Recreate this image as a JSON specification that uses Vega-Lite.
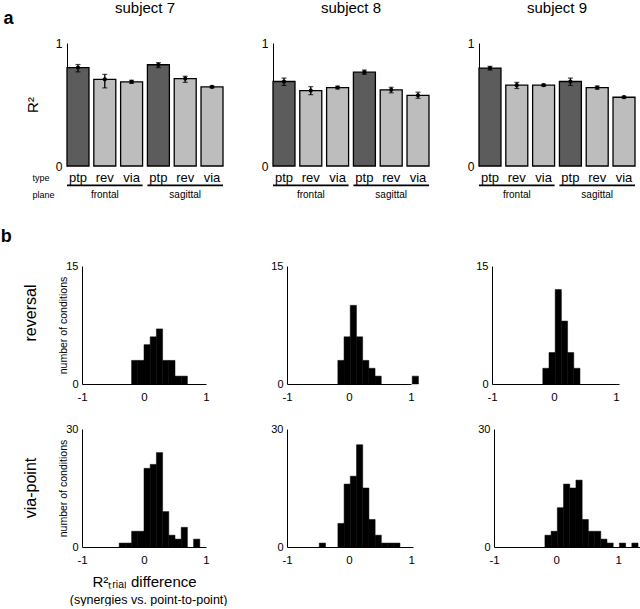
{
  "$schema": "https://vega.github.io/schema/vega-lite/v6.json",
  "background": "white",
  "padding": {"left": 0, "top": 1, "right": 0, "bottom": 0},
  "config": {
    "font": "Liberation Sans",
    "view": {"stroke": null},
    "axis": {"grid": false, "domainColor": "black", "domainWidth": 1, "tickColor": "black", "labelColor": "black", "titleColor": "black", "labelFont": "Liberation Sans", "titleFont": "Liberation Sans", "titleFontWeight": "normal", "labelFontSize": 12},
    "title": {"font": "Liberation Sans", "color": "black", "fontWeight": "normal"}
  },
  "datasets": {
    "bars": [
      {"subject": 7, "plane": "frontal", "type": "ptp", "cond": "frontal ptp", "r2": 0.80, "lo": 0.765, "hi": 0.825},
      {"subject": 7, "plane": "frontal", "type": "rev", "cond": "frontal rev", "r2": 0.705, "lo": 0.635, "hi": 0.745},
      {"subject": 7, "plane": "frontal", "type": "via", "cond": "frontal via", "r2": 0.684, "lo": 0.672, "hi": 0.697},
      {"subject": 7, "plane": "sagittal", "type": "ptp", "cond": "sagittal ptp", "r2": 0.823, "lo": 0.80, "hi": 0.84},
      {"subject": 7, "plane": "sagittal", "type": "rev", "cond": "sagittal rev", "r2": 0.711, "lo": 0.68, "hi": 0.73},
      {"subject": 7, "plane": "sagittal", "type": "via", "cond": "sagittal via", "r2": 0.643, "lo": 0.636, "hi": 0.65},
      {"subject": 8, "plane": "frontal", "type": "ptp", "cond": "frontal ptp", "r2": 0.687, "lo": 0.655, "hi": 0.715},
      {"subject": 8, "plane": "frontal", "type": "rev", "cond": "frontal rev", "r2": 0.613, "lo": 0.58, "hi": 0.645},
      {"subject": 8, "plane": "frontal", "type": "via", "cond": "frontal via", "r2": 0.638, "lo": 0.627, "hi": 0.649},
      {"subject": 8, "plane": "sagittal", "type": "ptp", "cond": "sagittal ptp", "r2": 0.763, "lo": 0.745, "hi": 0.78},
      {"subject": 8, "plane": "sagittal", "type": "rev", "cond": "sagittal rev", "r2": 0.619, "lo": 0.595, "hi": 0.64},
      {"subject": 8, "plane": "sagittal", "type": "via", "cond": "sagittal via", "r2": 0.575, "lo": 0.55, "hi": 0.60},
      {"subject": 9, "plane": "frontal", "type": "ptp", "cond": "frontal ptp", "r2": 0.796, "lo": 0.78, "hi": 0.81},
      {"subject": 9, "plane": "frontal", "type": "rev", "cond": "frontal rev", "r2": 0.657, "lo": 0.63, "hi": 0.68},
      {"subject": 9, "plane": "frontal", "type": "via", "cond": "frontal via", "r2": 0.657, "lo": 0.649, "hi": 0.665},
      {"subject": 9, "plane": "sagittal", "type": "ptp", "cond": "sagittal ptp", "r2": 0.687, "lo": 0.655, "hi": 0.715},
      {"subject": 9, "plane": "sagittal", "type": "rev", "cond": "sagittal rev", "r2": 0.638, "lo": 0.625, "hi": 0.65},
      {"subject": 9, "plane": "sagittal", "type": "via", "cond": "sagittal via", "r2": 0.559, "lo": 0.552, "hi": 0.567}
    ],
    "planes": [{"plane": "frontal"}, {"plane": "sagittal"}],
    "hist": [
      {"subject": 7, "cond": "reversal", "x0": -0.2, "x1": -0.1, "n": 3},
      {"subject": 7, "cond": "reversal", "x0": -0.1, "x1": 0.0, "n": 3},
      {"subject": 7, "cond": "reversal", "x0": 0.0, "x1": 0.1, "n": 5},
      {"subject": 7, "cond": "reversal", "x0": 0.1, "x1": 0.2, "n": 6},
      {"subject": 7, "cond": "reversal", "x0": 0.2, "x1": 0.3, "n": 7},
      {"subject": 7, "cond": "reversal", "x0": 0.3, "x1": 0.4, "n": 3},
      {"subject": 7, "cond": "reversal", "x0": 0.4, "x1": 0.5, "n": 3},
      {"subject": 7, "cond": "reversal", "x0": 0.5, "x1": 0.6, "n": 1},
      {"subject": 7, "cond": "reversal", "x0": 0.6, "x1": 0.7, "n": 1},
      {"subject": 8, "cond": "reversal", "x0": -0.18, "x1": -0.08, "n": 3},
      {"subject": 8, "cond": "reversal", "x0": -0.08, "x1": 0.02, "n": 6},
      {"subject": 8, "cond": "reversal", "x0": 0.02, "x1": 0.12, "n": 10},
      {"subject": 8, "cond": "reversal", "x0": 0.12, "x1": 0.22, "n": 6},
      {"subject": 8, "cond": "reversal", "x0": 0.22, "x1": 0.32, "n": 3},
      {"subject": 8, "cond": "reversal", "x0": 0.32, "x1": 0.42, "n": 2},
      {"subject": 8, "cond": "reversal", "x0": 0.42, "x1": 0.52, "n": 1},
      {"subject": 8, "cond": "reversal", "x0": 1.02, "x1": 1.12, "n": 1},
      {"subject": 9, "cond": "reversal", "x0": -0.18, "x1": -0.08, "n": 2},
      {"subject": 9, "cond": "reversal", "x0": -0.08, "x1": 0.02, "n": 4},
      {"subject": 9, "cond": "reversal", "x0": 0.02, "x1": 0.12, "n": 12},
      {"subject": 9, "cond": "reversal", "x0": 0.12, "x1": 0.22, "n": 8},
      {"subject": 9, "cond": "reversal", "x0": 0.22, "x1": 0.32, "n": 4},
      {"subject": 9, "cond": "reversal", "x0": 0.32, "x1": 0.42, "n": 2},
      {"subject": 7, "cond": "via", "x0": -0.4, "x1": -0.3, "n": 1},
      {"subject": 7, "cond": "via", "x0": -0.3, "x1": -0.2, "n": 1},
      {"subject": 7, "cond": "via", "x0": -0.2, "x1": -0.1, "n": 4},
      {"subject": 7, "cond": "via", "x0": -0.1, "x1": 0.0, "n": 4},
      {"subject": 7, "cond": "via", "x0": 0.0, "x1": 0.1, "n": 20},
      {"subject": 7, "cond": "via", "x0": 0.1, "x1": 0.2, "n": 21},
      {"subject": 7, "cond": "via", "x0": 0.2, "x1": 0.3, "n": 24},
      {"subject": 7, "cond": "via", "x0": 0.3, "x1": 0.4, "n": 9},
      {"subject": 7, "cond": "via", "x0": 0.4, "x1": 0.5, "n": 3},
      {"subject": 7, "cond": "via", "x0": 0.5, "x1": 0.6, "n": 2},
      {"subject": 7, "cond": "via", "x0": 0.6, "x1": 0.7, "n": 5},
      {"subject": 7, "cond": "via", "x0": 0.8, "x1": 0.9, "n": 2},
      {"subject": 8, "cond": "via", "x0": -0.48, "x1": -0.38, "n": 1},
      {"subject": 8, "cond": "via", "x0": -0.18, "x1": -0.08, "n": 6},
      {"subject": 8, "cond": "via", "x0": -0.08, "x1": 0.02, "n": 16},
      {"subject": 8, "cond": "via", "x0": 0.02, "x1": 0.12, "n": 18},
      {"subject": 8, "cond": "via", "x0": 0.12, "x1": 0.22, "n": 26},
      {"subject": 8, "cond": "via", "x0": 0.22, "x1": 0.32, "n": 15},
      {"subject": 8, "cond": "via", "x0": 0.32, "x1": 0.42, "n": 7},
      {"subject": 8, "cond": "via", "x0": 0.42, "x1": 0.52, "n": 3},
      {"subject": 8, "cond": "via", "x0": 0.52, "x1": 0.62, "n": 1},
      {"subject": 8, "cond": "via", "x0": 0.62, "x1": 0.72, "n": 1},
      {"subject": 8, "cond": "via", "x0": 0.72, "x1": 0.82, "n": 1},
      {"subject": 9, "cond": "via", "x0": -0.18, "x1": -0.08, "n": 3},
      {"subject": 9, "cond": "via", "x0": -0.08, "x1": 0.02, "n": 4},
      {"subject": 9, "cond": "via", "x0": 0.02, "x1": 0.12, "n": 10},
      {"subject": 9, "cond": "via", "x0": 0.12, "x1": 0.22, "n": 16},
      {"subject": 9, "cond": "via", "x0": 0.22, "x1": 0.32, "n": 15},
      {"subject": 9, "cond": "via", "x0": 0.32, "x1": 0.42, "n": 17},
      {"subject": 9, "cond": "via", "x0": 0.42, "x1": 0.52, "n": 7},
      {"subject": 9, "cond": "via", "x0": 0.52, "x1": 0.62, "n": 4},
      {"subject": 9, "cond": "via", "x0": 0.62, "x1": 0.72, "n": 4},
      {"subject": 9, "cond": "via", "x0": 0.72, "x1": 0.82, "n": 2},
      {"subject": 9, "cond": "via", "x0": 0.82, "x1": 0.92, "n": 1},
      {"subject": 9, "cond": "via", "x0": 1.02, "x1": 1.12, "n": 1},
      {"subject": 9, "cond": "via", "x0": 1.22, "x1": 1.32, "n": 1}
    ]
  },
  "columns": 1,
  "align": "none",
  "spacing": 29,
  "concat": [
    {
      "bounds": "flush",
      "spacing": 50,
      "hconcat": [
        {
          "width": 156, "height": 123,
          "title": {"text": "subject 7", "fontSize": 15, "frame": "group", "offset": -7, "dx": -15},
          "layer": [
            {
              "data": {"name": "bars"},
              "transform": [{"filter": "datum.subject == 7"}],
              "layer": [
                {"mark": {"type": "bar", "stroke": "black", "strokeWidth": 1.3},
                 "encoding": {
                   "x": {"field": "cond", "type": "nominal", "sort": null, "scale": {"paddingInner": 0.18, "paddingOuter": 0, "range": [-15, 141]},
                         "axis": {"orient": "bottom", "domain": false, "ticks": false, "tickSize": 0, "labelAngle": 0, "labelFontSize": 13, "labelPadding": 15, "labelBaseline": "alphabetic", "labelExpr": "split(datum.value, ' ')[1]",
                                  "title": "type", "titleFontSize": 9, "titleAlign": "left", "titleX": -50, "titleY": 14, "titleBaseline": "alphabetic", "titleAngle": 0}},
                   "y": {"field": "r2", "type": "quantitative", "scale": {"domain": [0, 1], "nice": false}, "axis": {"offset": 15, "values": [0, 1], "format": "d", "ticks": false, "tickSize": 0, "labelPadding": 5, "labelFontSize": 12, "title": "R²", "titleFontSize": 15, "titleAngle": -90, "titleAlign": "center", "titleBaseline": "alphabetic", "titleX": -30, "titleY": 61.5}},
                   "fill": {"field": "type", "type": "nominal", "scale": {"domain": ["ptp", "rev", "via"], "range": ["#5c5c5c", "#bdbdbd", "#bdbdbd"]}, "legend": null}
                 }},
                {"mark": {"type": "rule", "color": "black", "strokeWidth": 1.3}, "encoding": {"x": {"field": "cond", "type": "nominal", "sort": null}, "y": {"field": "lo", "type": "quantitative", "axis": {"offset": 15, "values": [0, 1], "format": "d", "ticks": false, "tickSize": 0, "labelPadding": 5, "labelFontSize": 12, "title": "R²", "titleFontSize": 15, "titleAngle": -90, "titleAlign": "center", "titleBaseline": "alphabetic", "titleX": -30, "titleY": 61.5}}, "y2": {"field": "hi"}}},
                {"mark": {"type": "tick", "color": "black", "orient": "horizontal", "size": 5, "thickness": 1.2}, "encoding": {"x": {"field": "cond", "type": "nominal", "sort": null}, "y": {"field": "lo", "type": "quantitative", "axis": {"offset": 15, "values": [0, 1], "format": "d", "ticks": false, "tickSize": 0, "labelPadding": 5, "labelFontSize": 12, "title": "R²", "titleFontSize": 15, "titleAngle": -90, "titleAlign": "center", "titleBaseline": "alphabetic", "titleX": -30, "titleY": 61.5}}}},
                {"mark": {"type": "tick", "color": "black", "orient": "horizontal", "size": 5, "thickness": 1.2}, "encoding": {"x": {"field": "cond", "type": "nominal", "sort": null}, "y": {"field": "hi", "type": "quantitative", "axis": {"offset": 15, "values": [0, 1], "format": "d", "ticks": false, "tickSize": 0, "labelPadding": 5, "labelFontSize": 12, "title": "R²", "titleFontSize": 15, "titleAngle": -90, "titleAlign": "center", "titleBaseline": "alphabetic", "titleX": -30, "titleY": 61.5}}}},
                {"mark": {"type": "point", "filled": true, "color": "black", "opacity": 1, "size": 18}, "encoding": {"x": {"field": "cond", "type": "nominal", "sort": null}, "y": {"field": "r2", "type": "quantitative", "axis": {"offset": 15, "values": [0, 1], "format": "d", "ticks": false, "tickSize": 0, "labelPadding": 5, "labelFontSize": 12, "title": "R²", "titleFontSize": 15, "titleAngle": -90, "titleAlign": "center", "titleBaseline": "alphabetic", "titleX": -30, "titleY": 61.5}}}}
              ]
            },
            {
              "data": {"name": "planes"},
              "mark": {"type": "bar", "color": "black"},
              "encoding": {
                "x": {"field": "plane", "type": "nominal", "sort": null, "scale": {"paddingInner": 0.06, "paddingOuter": 0, "range": [-15, 141]},
                      "axis": {"orient": "bottom", "domain": false, "ticks": false, "tickSize": 0, "labelAngle": 0, "labelFontSize": 10, "labelPadding": 31, "labelBaseline": "alphabetic",
                               "title": "plane", "titleFontSize": 9, "titleAlign": "left", "titleX": -50, "titleY": 31, "titleBaseline": "alphabetic", "titleAngle": 0}},
                "y": {"datum": -0.15, "type": "quantitative", "scale": {"domain": [0, 1], "nice": false},
                      "axis": {"orient": "left", "offset": 15, "domain": false, "labels": false, "ticks": false, "tickSize": 0, "title": "a", "titleFontSize": 18, "titleFontWeight": "bold", "titleAngle": 0, "titleAlign": "left", "titleBaseline": "alphabetic", "titleX": -64, "titleY": -20}},
                "y2": {"datum": -0.165}
              }
            }
          ],
          "resolve": {"scale": {"x": "independent", "y": "independent"}, "axis": {"x": "independent", "y": "independent"}}
        },
        {
          "width": 156, "height": 123,
          "title": {"text": "subject 8", "fontSize": 15, "frame": "group", "offset": 21, "dx": -15},
          "layer": [
            {
              "data": {"name": "bars"},
              "transform": [{"filter": "datum.subject == 8"}],
              "layer": [
                {"mark": {"type": "bar", "stroke": "black", "strokeWidth": 1.3},
                 "encoding": {
                   "x": {"field": "cond", "type": "nominal", "sort": null, "scale": {"paddingInner": 0.18, "paddingOuter": 0, "range": [-15, 141]},
                         "axis": {"orient": "bottom", "domain": false, "ticks": false, "tickSize": 0, "labelAngle": 0, "labelFontSize": 13, "labelPadding": 15, "labelBaseline": "alphabetic", "labelExpr": "split(datum.value, ' ')[1]", "title": null}},
                   "y": {"field": "r2", "type": "quantitative", "scale": {"domain": [0, 1], "nice": false}, "axis": {"offset": 15, "values": [0, 1], "format": "d", "ticks": false, "tickSize": 0, "labelPadding": 5, "labelFontSize": 12, "title": null}},
                   "fill": {"field": "type", "type": "nominal", "scale": {"domain": ["ptp", "rev", "via"], "range": ["#5c5c5c", "#bdbdbd", "#bdbdbd"]}, "legend": null}
                 }},
                {"mark": {"type": "rule", "color": "black", "strokeWidth": 1.3}, "encoding": {"x": {"field": "cond", "type": "nominal", "sort": null}, "y": {"field": "lo", "type": "quantitative", "axis": {"offset": 15, "values": [0, 1], "format": "d", "ticks": false, "tickSize": 0, "labelPadding": 5, "labelFontSize": 12, "title": null}}, "y2": {"field": "hi"}}},
                {"mark": {"type": "tick", "color": "black", "orient": "horizontal", "size": 5, "thickness": 1.2}, "encoding": {"x": {"field": "cond", "type": "nominal", "sort": null}, "y": {"field": "lo", "type": "quantitative", "axis": {"offset": 15, "values": [0, 1], "format": "d", "ticks": false, "tickSize": 0, "labelPadding": 5, "labelFontSize": 12, "title": null}}}},
                {"mark": {"type": "tick", "color": "black", "orient": "horizontal", "size": 5, "thickness": 1.2}, "encoding": {"x": {"field": "cond", "type": "nominal", "sort": null}, "y": {"field": "hi", "type": "quantitative", "axis": {"offset": 15, "values": [0, 1], "format": "d", "ticks": false, "tickSize": 0, "labelPadding": 5, "labelFontSize": 12, "title": null}}}},
                {"mark": {"type": "point", "filled": true, "color": "black", "opacity": 1, "size": 18}, "encoding": {"x": {"field": "cond", "type": "nominal", "sort": null}, "y": {"field": "r2", "type": "quantitative", "axis": {"offset": 15, "values": [0, 1], "format": "d", "ticks": false, "tickSize": 0, "labelPadding": 5, "labelFontSize": 12, "title": null}}}}
              ]
            },
            {
              "data": {"name": "planes"},
              "mark": {"type": "bar", "color": "black"},
              "encoding": {
                "x": {"field": "plane", "type": "nominal", "sort": null, "scale": {"paddingInner": 0.06, "paddingOuter": 0, "range": [-15, 141]},
                      "axis": {"orient": "bottom", "domain": false, "ticks": false, "tickSize": 0, "labelAngle": 0, "labelFontSize": 10, "labelPadding": 31, "labelBaseline": "alphabetic", "title": null}},
                "y": {"datum": -0.15, "type": "quantitative", "scale": {"domain": [0, 1], "nice": false}, "axis": {"offset": 15, "values": [0, 1], "format": "d", "ticks": false, "tickSize": 0, "labelPadding": 5, "labelFontSize": 12, "title": null}},
                "y2": {"datum": -0.165}
              }
            }
          ],
          "resolve": {"scale": {"x": "independent"}, "axis": {"x": "independent"}}
        },
        {
          "width": 156, "height": 123,
          "title": {"text": "subject 9", "fontSize": 15, "frame": "group", "offset": 21, "dx": -15},
          "layer": [
            {
              "data": {"name": "bars"},
              "transform": [{"filter": "datum.subject == 9"}],
              "layer": [
                {"mark": {"type": "bar", "stroke": "black", "strokeWidth": 1.3},
                 "encoding": {
                   "x": {"field": "cond", "type": "nominal", "sort": null, "scale": {"paddingInner": 0.18, "paddingOuter": 0, "range": [-15, 141]},
                         "axis": {"orient": "bottom", "domain": false, "ticks": false, "tickSize": 0, "labelAngle": 0, "labelFontSize": 13, "labelPadding": 15, "labelBaseline": "alphabetic", "labelExpr": "split(datum.value, ' ')[1]", "title": null}},
                   "y": {"field": "r2", "type": "quantitative", "scale": {"domain": [0, 1], "nice": false}, "axis": {"offset": 15, "values": [0, 1], "format": "d", "ticks": false, "tickSize": 0, "labelPadding": 5, "labelFontSize": 12, "title": null}},
                   "fill": {"field": "type", "type": "nominal", "scale": {"domain": ["ptp", "rev", "via"], "range": ["#5c5c5c", "#bdbdbd", "#bdbdbd"]}, "legend": null}
                 }},
                {"mark": {"type": "rule", "color": "black", "strokeWidth": 1.3}, "encoding": {"x": {"field": "cond", "type": "nominal", "sort": null}, "y": {"field": "lo", "type": "quantitative", "axis": {"offset": 15, "values": [0, 1], "format": "d", "ticks": false, "tickSize": 0, "labelPadding": 5, "labelFontSize": 12, "title": null}}, "y2": {"field": "hi"}}},
                {"mark": {"type": "tick", "color": "black", "orient": "horizontal", "size": 5, "thickness": 1.2}, "encoding": {"x": {"field": "cond", "type": "nominal", "sort": null}, "y": {"field": "lo", "type": "quantitative", "axis": {"offset": 15, "values": [0, 1], "format": "d", "ticks": false, "tickSize": 0, "labelPadding": 5, "labelFontSize": 12, "title": null}}}},
                {"mark": {"type": "tick", "color": "black", "orient": "horizontal", "size": 5, "thickness": 1.2}, "encoding": {"x": {"field": "cond", "type": "nominal", "sort": null}, "y": {"field": "hi", "type": "quantitative", "axis": {"offset": 15, "values": [0, 1], "format": "d", "ticks": false, "tickSize": 0, "labelPadding": 5, "labelFontSize": 12, "title": null}}}},
                {"mark": {"type": "point", "filled": true, "color": "black", "opacity": 1, "size": 18}, "encoding": {"x": {"field": "cond", "type": "nominal", "sort": null}, "y": {"field": "r2", "type": "quantitative", "axis": {"offset": 15, "values": [0, 1], "format": "d", "ticks": false, "tickSize": 0, "labelPadding": 5, "labelFontSize": 12, "title": null}}}}
              ]
            },
            {
              "data": {"name": "planes"},
              "mark": {"type": "bar", "color": "black"},
              "encoding": {
                "x": {"field": "plane", "type": "nominal", "sort": null, "scale": {"paddingInner": 0.06, "paddingOuter": 0, "range": [-15, 141]},
                      "axis": {"orient": "bottom", "domain": false, "ticks": false, "tickSize": 0, "labelAngle": 0, "labelFontSize": 10, "labelPadding": 31, "labelBaseline": "alphabetic", "title": null}},
                "y": {"datum": -0.15, "type": "quantitative", "scale": {"domain": [0, 1], "nice": false}, "axis": {"offset": 15, "values": [0, 1], "format": "d", "ticks": false, "tickSize": 0, "labelPadding": 5, "labelFontSize": 12, "title": null}},
                "y2": {"datum": -0.165}
              }
            }
          ],
          "resolve": {"scale": {"x": "independent"}, "axis": {"x": "independent"}}
        }
      ]
    },
    {
      "title": {"text": "b", "orient": "left", "angle": 0, "anchor": "end", "frame": "bounds", "align": "right", "fontSize": 18, "fontWeight": "bold", "baseline": "alphabetic", "offset": 0, "dy": -18},
      "spacing": 20,
      "vconcat": [
        {
          "bounds": "flush",
          "spacing": 81,
          "hconcat": [
            {
              "width": 124, "height": 118,
              "title": {"text": "reversal", "orient": "left", "fontSize": 16, "offset": 20, "frame": "group", "dx": 12},
              "data": {"name": "hist"},
              "transform": [{"filter": "datum.subject == 7 && datum.cond == 'reversal'"}],
              "mark": {"type": "bar", "color": "black", "stroke": "black", "strokeWidth": 0.5},
              "encoding": {
                "x": {"field": "x0", "type": "quantitative", "scale": {"domain": [-1, 1], "nice": false, "zero": false}, "axis": {"values": [-1, 0, 1], "ticks": false, "tickSize": 0, "labelPadding": 7, "labelFlush": false, "labelOverlap": false, "labelFontSize": 11.5, "labelExpr": "datum.value == 0 ? '0' : (datum.value < 0 ? '-1' : '1')", "title": null}},
                "x2": {"field": "x1"},
                "y": {"field": "n", "type": "quantitative", "scale": {"domain": [0, 15], "nice": false}, "axis": {"values": [0, 15], "ticks": false, "tickSize": 0, "labelPadding": 4, "labelFontSize": 11, "title": "number of conditions", "titleFontSize": 10.5, "titlePadding": -3}},
                "y2": {"datum": 0}
              }
            },
            {
              "width": 124, "height": 118,
              "data": {"name": "hist"},
              "transform": [{"filter": "datum.subject == 8 && datum.cond == 'reversal'"}],
              "mark": {"type": "bar", "color": "black", "stroke": "black", "strokeWidth": 0.5},
              "encoding": {
                "x": {"field": "x0", "type": "quantitative", "scale": {"domain": [-1, 1], "nice": false, "zero": false}, "axis": {"values": [-1, 0, 1], "ticks": false, "tickSize": 0, "labelPadding": 7, "labelFlush": false, "labelOverlap": false, "labelFontSize": 11.5, "labelExpr": "datum.value == 0 ? '0' : (datum.value < 0 ? '-1' : '1')", "title": null}},
                "x2": {"field": "x1"},
                "y": {"field": "n", "type": "quantitative", "scale": {"domain": [0, 15], "nice": false}, "axis": {"values": [0, 15], "ticks": false, "tickSize": 0, "labelPadding": 4, "labelFontSize": 11, "title": null}},
                "y2": {"datum": 0}
              }
            },
            {
              "width": 127, "height": 118,
              "data": {"name": "hist"},
              "transform": [{"filter": "datum.subject == 9 && datum.cond == 'reversal'"}],
              "mark": {"type": "bar", "color": "black", "stroke": "black", "strokeWidth": 0.5},
              "encoding": {
                "x": {"field": "x0", "type": "quantitative", "scale": {"domain": [-1, 1.05], "nice": false, "zero": false}, "axis": {"values": [-1, 0, 1], "ticks": false, "tickSize": 0, "labelPadding": 7, "labelFlush": false, "labelOverlap": false, "labelFontSize": 11.5, "labelExpr": "datum.value == 0 ? '0' : (datum.value < 0 ? '-1' : '1')", "title": null}},
                "x2": {"field": "x1"},
                "y": {"field": "n", "type": "quantitative", "scale": {"domain": [0, 15], "nice": false}, "axis": {"values": [0, 15], "ticks": false, "tickSize": 0, "labelPadding": 4, "labelFontSize": 11, "title": null}},
                "y2": {"datum": 0}
              }
            }
          ]
        },
        {
          "bounds": "flush",
          "spacing": 81,
          "title": {"text": "(synergies vs. point-to-point)", "orient": "bottom", "anchor": "start", "frame": "bounds", "fontSize": 12.5, "offset": 4, "dx": 47},
          "hconcat": [
            {
              "width": 124, "height": 118,
              "title": {"text": "via-point", "orient": "left", "fontSize": 16, "offset": 20, "frame": "group"},
              "data": {"name": "hist"},
              "transform": [{"filter": "datum.subject == 7 && datum.cond == 'via'"}],
              "mark": {"type": "bar", "color": "black", "stroke": "black", "strokeWidth": 0.5},
              "encoding": {
                "x": {"field": "x0", "type": "quantitative", "scale": {"domain": [-1, 1], "nice": false, "zero": false}, "axis": {"values": [-1, 0, 1], "ticks": false, "tickSize": 0, "labelPadding": 7, "labelFlush": false, "labelOverlap": false, "labelFontSize": 11.5, "labelExpr": "datum.value == 0 ? '0' : (datum.value < 0 ? '-1' : '1')", "title": "R²ₜᵣᵢₐₗ difference", "titleFontSize": 15, "titlePadding": 9}},
                "x2": {"field": "x1"},
                "y": {"field": "n", "type": "quantitative", "scale": {"domain": [0, 30], "nice": false}, "axis": {"values": [0, 30], "ticks": false, "tickSize": 0, "labelPadding": 4, "labelFontSize": 11, "title": "number of conditions", "titleFontSize": 10.5, "titlePadding": -3}},
                "y2": {"datum": 0}
              }
            },
            {
              "width": 126, "height": 118,
              "data": {"name": "hist"},
              "transform": [{"filter": "datum.subject == 8 && datum.cond == 'via'"}],
              "mark": {"type": "bar", "color": "black", "stroke": "black", "strokeWidth": 0.5},
              "encoding": {
                "x": {"field": "x0", "type": "quantitative", "scale": {"domain": [-1, 1.03], "nice": false, "zero": false}, "axis": {"values": [-1, 0, 1], "ticks": false, "tickSize": 0, "labelPadding": 7, "labelFlush": false, "labelOverlap": false, "labelFontSize": 11.5, "labelExpr": "datum.value == 0 ? '0' : (datum.value < 0 ? '-1' : '1')", "title": null}},
                "x2": {"field": "x1"},
                "y": {"field": "n", "type": "quantitative", "scale": {"domain": [0, 30], "nice": false}, "axis": {"values": [0, 30], "ticks": false, "tickSize": 0, "labelPadding": 4, "labelFontSize": 11, "title": null}},
                "y2": {"datum": 0}
              }
            },
            {
              "width": 149, "height": 118,
              "data": {"name": "hist"},
              "transform": [{"filter": "datum.subject == 9 && datum.cond == 'via'"}],
              "mark": {"type": "bar", "color": "black", "stroke": "black", "strokeWidth": 0.5},
              "encoding": {
                "x": {"field": "x0", "type": "quantitative", "scale": {"domain": [-1, 1.4], "nice": false, "zero": false}, "axis": {"values": [-1, 0, 1], "ticks": false, "tickSize": 0, "labelPadding": 7, "labelFlush": false, "labelOverlap": false, "labelFontSize": 11.5, "labelExpr": "datum.value == 0 ? '0' : (datum.value < 0 ? '-1' : '1')", "title": null}},
                "x2": {"field": "x1"},
                "y": {"field": "n", "type": "quantitative", "scale": {"domain": [0, 30], "nice": false}, "axis": {"values": [0, 30], "ticks": false, "tickSize": 0, "labelPadding": 4, "labelFontSize": 11, "title": null}},
                "y2": {"datum": 0}
              }
            }
          ]
        }
      ]
    }
  ]
}
